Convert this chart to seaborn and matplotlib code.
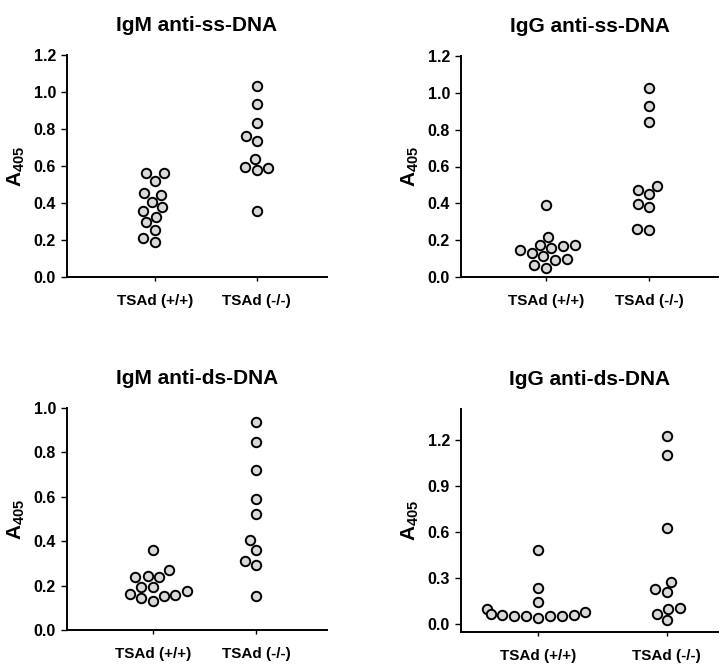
import matplotlib
matplotlib.use("Agg")
import matplotlib.pyplot as plt
import seaborn as sns
import pandas as pd

sns.set_theme(style="ticks")
plt.rcParams['font.family'] = ['Liberation Sans', 'DejaVu Sans']
plt.rcParams['font.weight'] = 'bold'
plt.rcParams['mathtext.fontset'] = 'custom'
plt.rcParams['mathtext.rm'] = 'Liberation Sans:bold'
plt.rcParams['mathtext.bf'] = 'Liberation Sans:bold'
for k in ['text.color', 'axes.labelcolor', 'xtick.color', 'ytick.color', 'axes.edgecolor']:
    plt.rcParams[k] = 'black'

groups = ["TSAd (+/+)", "TSAd (-/-)"]

titles = ["IgM anti-ss-DNA", "IgG anti-ss-DNA", "IgM anti-ds-DNA", "IgG anti-ds-DNA"]

igm_ss_wt = [0.561, 0.561, 0.520, 0.453, 0.441, 0.405, 0.380, 0.356, 0.327, 0.297, 0.255, 0.209, 0.189]
igm_ss_ko = [1.034, 0.934, 0.833, 0.761, 0.734, 0.640, 0.579, 0.597, 0.590, 0.356]

igg_ss_wt = [0.390, 0.217, 0.170, 0.148, 0.174, 0.157, 0.174, 0.128, 0.112, 0.094, 0.098, 0.067, 0.051]
igg_ss_ko = [1.025, 0.929, 0.842, 0.495, 0.450, 0.472, 0.399, 0.379, 0.262, 0.253]

igm_ds_wt = [0.359, 0.269, 0.239, 0.241, 0.239, 0.195, 0.195, 0.176, 0.161, 0.158, 0.155, 0.143, 0.131]
igm_ds_ko = [0.937, 0.847, 0.719, 0.591, 0.523, 0.406, 0.362, 0.313, 0.292, 0.152]

igg_ds_wt = [0.482, 0.231, 0.142, 0.094, 0.076, 0.065, 0.059, 0.059, 0.052, 0.048, 0.048, 0.052, 0.037]
igg_ds_ko = [1.224, 1.098, 0.626, 0.271, 0.223, 0.203, 0.100, 0.098, 0.065, 0.022]

panels = [
    (igm_ss_wt, igm_ss_ko),
    (igg_ss_wt, igg_ss_ko),
    (igm_ds_wt, igm_ds_ko),
    (igg_ds_wt, igg_ds_ko),
]

yticks_list = [
    [0.0, 0.2, 0.4, 0.6, 0.8, 1.0, 1.2],
    [0.0, 0.2, 0.4, 0.6, 0.8, 1.0, 1.2],
    [0.0, 0.2, 0.4, 0.6, 0.8, 1.0],
    [0.0, 0.3, 0.6, 0.9, 1.2],
]
ylims = [(0, 1.2), (0, 1.2), (0, 1.0), (-0.055, 1.40)]
xlims = [(-0.86, 1.69), (-0.825, 1.67), (-0.835, 1.69), (-0.60, 1.40)]

W, H = 720, 664
boxes_px = [
    (67, 327, 55, 277),
    (461, 718, 56, 277),
    (67, 327, 408, 630),
    (461, 718, 409, 632),
]

fig = plt.figure(figsize=(W / 100, H / 100), dpi=100)
fig.patch.set_facecolor("white")

for i, (wt, ko) in enumerate(panels):
    l, r, t, b = boxes_px[i]
    ax = fig.add_axes([l / W, (H - b) / H, (r - l) / W, (b - t) / H])
    df = pd.DataFrame({
        "group": [groups[0]] * len(wt) + [groups[1]] * len(ko),
        "value": list(wt) + list(ko),
    })
    sns.swarmplot(data=df, x="group", y="value", order=groups, ax=ax,
                  color="#d9d9d9", edgecolor="black", linewidth=1.4, size=6.8)
    ax.set_xlim(*xlims[i])
    ax.set_ylim(*ylims[i])
    ax.set_yticks(yticks_list[i])
    ax.set_yticklabels([f"{v:.1f}" for v in yticks_list[i]], fontsize=11.5, fontweight="bold")
    ax.set_xticks([0, 1])
    ax.set_xticklabels(groups, fontsize=11, fontweight="bold")
    ax.set_xlabel("")
    ax.set_ylabel(r"A$_{405}$", fontsize=15, fontweight="bold", labelpad=5)
    ax.set_title(titles[i], fontsize=15, fontweight="bold", pad=17)
    ax.spines["top"].set_visible(False)
    ax.spines["right"].set_visible(False)
    ax.spines["left"].set_linewidth(1.4)
    ax.spines["bottom"].set_linewidth(1.4)
    ax.tick_params(axis="y", direction="out", length=4, width=1, pad=4)
    ax.tick_params(axis="x", direction="out", length=3, width=1, pad=9)
    ax.set_facecolor("white")

fig.savefig("out.png", dpi=100, facecolor="white")
